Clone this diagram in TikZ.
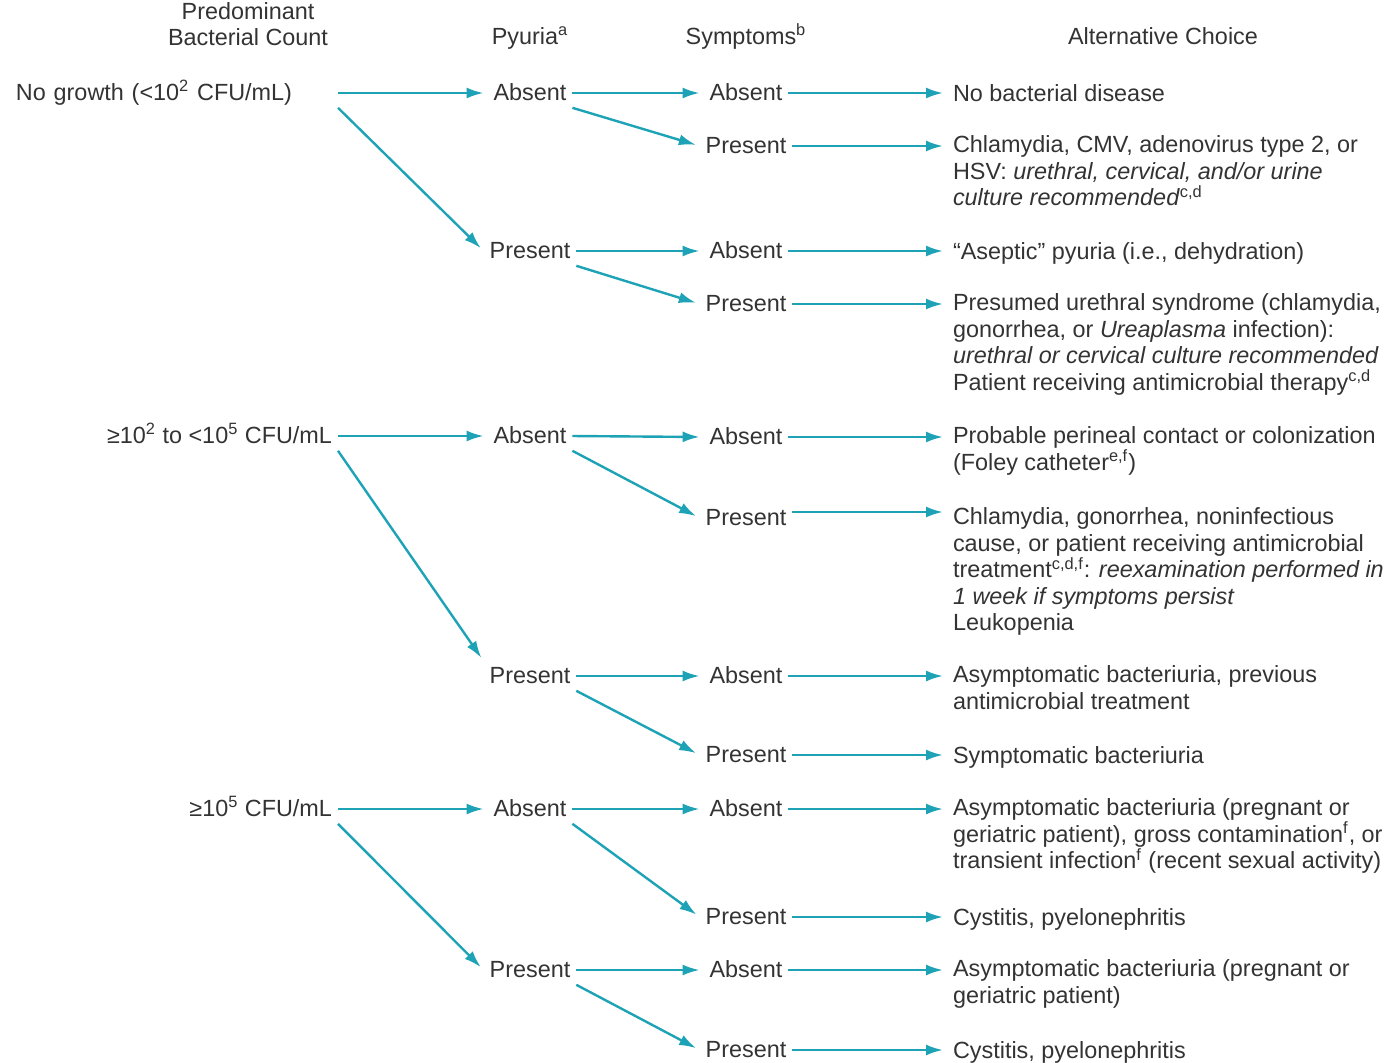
\documentclass[tikz,border=0pt]{standalone}
\usepackage{fontspec}
\setmainfont{Liberation Sans}
\usetikzlibrary{arrows.meta}
\definecolor{arrteal}{HTML}{1DA3B5}
\definecolor{txtgray}{HTML}{333333}

\begin{document}
\begin{tikzpicture}[x=0.5pt,y=-0.5pt]
        \tikzstyle{every node}+=[text=txtgray, font=\fontsize{11.7}{13.2}\selectfont]
        \tikzstyle{lbl}=[inner sep=2pt, outer sep=1pt, text height=0.8em, text depth=0.08em]
        \tikzstyle{outc}=[anchor=north west, align=left, inner sep=2pt, outer sep=1pt, execute at begin node=\strut]
        \tikzstyle{arr}=[draw=arrteal, line width=1.2pt, -{Latex[length=8.5pt,width=5.5pt]}, shorten >=2pt]
        \useasboundingbox (0,0) rectangle (1387,1062);
        \node [align=center] (hc) at (248,24) {Predominant\\Bacterial Count};
        \node [lbl] (hp) at (530,37) {Pyuria\textsuperscript{a}};
        \node [lbl] (hs) at (746,37) {Symptoms\textsuperscript{b}};
        \node [lbl] (ho) at (1163,37) {Alternative Choice};
        \node [lbl, anchor=east, text width=158pt, align=left] (c1) at (338,93) {No growth (<10\textsuperscript{2} CFU/mL)};
        \node [lbl, anchor=east] (c2) at (338,436) {≥10\textsuperscript{2} to <10\textsuperscript{5} CFU/mL};
        \node [lbl, anchor=east] (c3) at (338,809) {≥10\textsuperscript{5} CFU/mL};
        \node [lbl] (p1) at (530,93) {Absent};
        \node [lbl] (p2) at (530,251) {Present};
        \node [lbl] (p3) at (530,436) {Absent};
        \node [lbl] (p4) at (530,676) {Present};
        \node [lbl] (p5) at (530,809) {Absent};
        \node [lbl] (p6) at (530,970) {Present};
        \node [lbl] (s1) at (746,93) {Absent};
        \node [lbl] (s2) at (746,146) {Present};
        \node [lbl] (s3) at (746,251) {Absent};
        \node [lbl] (s4) at (746,304) {Present};
        \node [lbl] (s5) at (746,437) {Absent};
        \node [lbl] (s6) at (746,518) {Present};
        \node [lbl] (s7) at (746,676) {Absent};
        \node [lbl] (s8) at (746,755) {Present};
        \node [lbl] (s9) at (746,809) {Absent};
        \node [lbl] (s10) at (746,917) {Present};
        \node [lbl] (s11) at (746,970) {Absent};
        \node [lbl] (s12) at (746,1050) {Present};
        \node [outc] (o1) at (947,77) {No bacterial disease};
        \node [outc] (o2) at (947,130) {Chlamydia, CMV, adenovirus type 2, or\\HSV: \textit{urethral, cervical, and/or urine}\\\textit{culture recommended}\textsuperscript{c,d}};
        \node [outc] (o3) at (947,235) {“Aseptic” pyuria (i.e., dehydration)};
        \node [outc] (o4) at (947,288) {Presumed urethral syndrome (chlamydia,\\gonorrhea, or \textit{Ureaplasma} infection):\\\textit{urethral or cervical culture recommended}\\Patient receiving antimicrobial therapy\textsuperscript{c,d}};
        \node [outc] (o5) at (947,421) {Probable perineal contact or colonization\\(Foley catheter\textsuperscript{e,f})};
        \node [outc] (o6) at (947,502) {Chlamydia, gonorrhea, noninfectious\\cause, or patient receiving antimicrobial\\treatment\textsuperscript{c,d,f}: \textit{reexamination performed in}\\\textit{1 week if symptoms persist}\\Leukopenia};
        \node [outc] (o7) at (947,660) {Asymptomatic bacteriuria, previous\\antimicrobial treatment};
        \node [outc] (o8) at (947,739) {Symptomatic bacteriuria};
        \node [outc] (o9) at (947,793) {Asymptomatic bacteriuria (pregnant or\\geriatric patient), gross contamination\textsuperscript{f}, or\\transient infection\textsuperscript{f} (recent sexual activity)};
        \node [outc] (o10) at (947,901) {Cystitis, pyelonephritis};
        \node [outc] (o11) at (947,954) {Asymptomatic bacteriuria (pregnant or\\geriatric patient)};
        \node [outc] (o12) at (947,1034) {Cystitis, pyelonephritis};
        \draw [arr] (c1.east) -- (p1.west);
        \draw [arr] (c1.south east) -- (p2.west);
        \draw [arr] (c2.east) -- (p3.west);
        \draw [arr] (c2.south east) -- (p4.north west);
        \draw [arr] (c3.east) -- (p5.west);
        \draw [arr] (c3.south east) -- (p6.west);
        \draw [arr] (p1.east) -- (s1.west);
        \draw [arr] (p1.south east) -- (s2.west);
        \draw [arr] (p2.east) -- (s3.west);
        \draw [arr] (p2.south east) -- (s4.west);
        \draw [arr] (p3.east) -- (s5.west);
        \draw [arr] (p3.south east) -- (s6.west);
        \draw [arr] (p4.east) -- (s7.west);
        \draw [arr] (p4.south east) -- (s8.west);
        \draw [arr] (p5.east) -- (s9.west);
        \draw [arr] (p5.south east) -- (s10.west);
        \draw [arr] (p6.east) -- (s11.west);
        \draw [arr] (p6.south east) -- (s12.west);
        \draw [arr] (s1.east) -- (s1.east -| o1.west);
        \draw [arr] (s2.east) -- (s2.east -| o2.west);
        \draw [arr] (s3.east) -- (s3.east -| o3.west);
        \draw [arr] (s4.east) -- (s4.east -| o4.west);
        \draw [arr] (s5.east) -- (s5.east -| o5.west);
        \draw [arr] ([yshift=3pt]s6.east) -- ([yshift=3pt]s6.east -| o6.west);
        \draw [arr] (s7.east) -- (s7.east -| o7.west);
        \draw [arr] (s8.east) -- (s8.east -| o8.west);
        \draw [arr] (s9.east) -- (s9.east -| o9.west);
        \draw [arr] (s10.east) -- (s10.east -| o10.west);
        \draw [arr] (s11.east) -- (s11.east -| o11.west);
        \draw [arr] (s12.east) -- (s12.east -| o12.west);
\end{tikzpicture}
\end{document}
